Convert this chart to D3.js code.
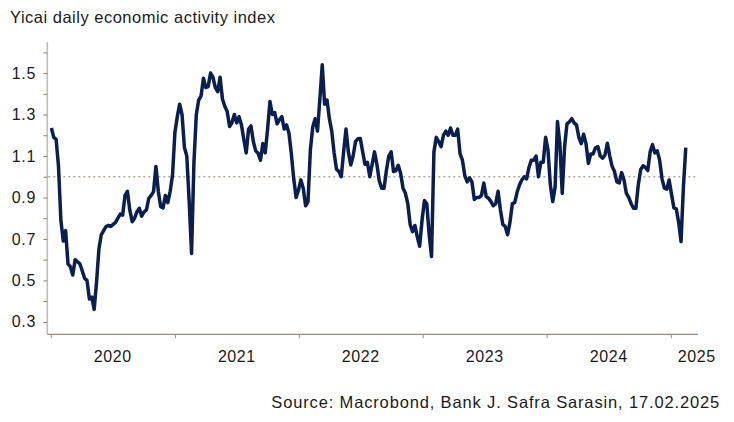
<!DOCTYPE html>
<html>
<head>
<meta charset="utf-8">
<script src="https://cdn.jsdelivr.net/npm/d3@7"></script>
<style>
  html, body { margin: 0; padding: 0; background: #ffffff; }
  svg { display: block; }
  text { font-family: "Liberation Sans", Arial, sans-serif; fill: #1a1a1a; }
</style>
</head>
<body>
<svg id="chart" width="734" height="422"></svg>
<script>
// ---------------- data ----------------
const title = "Yicai daily economic activity index";
const source = "Source: Macrobond, Bank J. Safra Sarasin, 17.02.2025";
const firstWeek = "2020-01-03";   // weekly observations, one value per week
const values = [
  1.235, 1.19, 1.18, 1.05, 0.79, 0.69, 0.74, 0.58, 0.566, 0.526,
  0.60, 0.59, 0.58, 0.545, 0.51, 0.50, 0.41, 0.42, 0.36, 0.49,
  0.65, 0.72, 0.74, 0.76, 0.765, 0.76, 0.77, 0.78, 0.80, 0.82,
  0.815, 0.91, 0.93, 0.84, 0.783, 0.80, 0.83, 0.848, 0.81, 0.83,
  0.84, 0.896, 0.91, 0.928, 1.05, 0.93, 0.856, 0.85, 0.91, 0.875,
  0.93, 1.01, 1.215, 1.29, 1.35, 1.30, 1.14, 1.10, 0.88, 0.63,
  1.07, 1.30, 1.37, 1.39, 1.475, 1.43, 1.436, 1.50, 1.48, 1.43,
  1.41, 1.48, 1.375, 1.34, 1.315, 1.242, 1.26, 1.30, 1.26, 1.29,
  1.25, 1.18, 1.115, 1.23, 1.245, 1.17, 1.125, 1.113, 1.08, 1.16,
  1.115, 1.23, 1.363, 1.30, 1.31, 1.255, 1.275, 1.29, 1.23, 1.25,
  1.21, 1.11, 0.99, 0.90, 0.935, 0.985, 0.945, 0.86, 0.88, 1.129,
  1.24, 1.28, 1.22, 1.375, 1.54, 1.35, 1.37, 1.28, 1.22, 1.115,
  1.036, 1.025, 1.00, 1.12, 1.23, 1.12, 1.057, 1.10, 1.17, 1.183,
  1.185, 1.121, 1.06, 1.07, 1.00, 1.06, 1.12, 1.06, 0.98, 0.945,
  0.945, 1.03, 1.10, 1.12, 1.025, 1.03, 1.055, 1.016, 0.945, 0.92,
  0.87, 0.77, 0.735, 0.765, 0.71, 0.665, 0.79, 0.885, 0.87, 0.72,
  0.615, 1.12, 1.19, 1.17, 1.145, 1.20, 1.22, 1.20, 1.235, 1.20,
  1.20, 1.23, 1.11, 1.08, 1.005, 0.975, 0.995, 0.975, 0.89, 0.90,
  0.90, 0.91, 0.97, 0.904, 0.896, 0.88, 0.86, 0.87, 0.93, 0.84,
  0.77, 0.76, 0.72, 0.78, 0.87, 0.875, 0.925, 0.96, 0.984, 1.00,
  0.99, 1.045, 1.08, 1.08, 1.10, 1.0, 1.07, 1.07, 1.19, 1.13,
  0.96, 0.88, 0.95, 1.266, 1.16, 0.92, 1.146, 1.255, 1.265, 1.28,
  1.26, 1.25, 1.19, 1.16, 1.205, 1.16, 1.065, 1.11, 1.11, 1.14,
  1.146, 1.10, 1.09, 1.105, 1.162, 1.10, 1.05, 1.025, 0.975, 0.97,
  1.02, 0.984, 0.92, 0.90, 0.87, 0.848, 0.848, 0.96, 1.033, 1.053,
  1.045, 1.03, 1.12, 1.155, 1.115, 1.125, 1.08, 0.99, 0.945, 0.94,
  0.984, 0.915, 0.85, 0.845, 0.78, 0.687, 0.95, 1.14
];
const referenceLevel = 1.0;
const yTicks = [0.3, 0.4, 0.5, 0.6, 0.7, 0.8, 0.9, 1.0, 1.1, 1.2, 1.3, 1.4, 1.5, 1.6];
const yTickLabels = ["0.3", "0.5", "0.7", "0.9", "1.1", "1.3", "1.5"];
const yearLabels = ["2020", "2021", "2022", "2023", "2024", "2025"];
const xDomain = ["2019-12-22", "2025-03-22"];
const yDomain = [0.24, 1.65];

// ---------------- layout ----------------
const svg = d3.select("#chart");
const plot = { left: 47.3, right: 698, top: 42, bottom: 334.3 };
const parse = d3.utcParse("%Y-%m-%d");

const x = d3.scaleUtc().domain(xDomain.map(parse)).range([plot.left, plot.right]);
const y = d3.scaleLinear().domain(yDomain).range([plot.bottom, plot.top]);

const start = parse(firstWeek);
const data = values.map((v, i) => ({ date: d3.utcDay.offset(start, 7 * i), value: v }));

// title
svg.append("text")
  .attr("x", 10).attr("y", 23)
  .style("font-size", "16.5px")
  .style("letter-spacing", "0.5px")
  .text(title);

// y axis
const fmt = d3.format(".1f");
const yAxis = d3.axisLeft(y)
  .tickValues(yTicks)
  .tickSize(4)
  .tickPadding(7)
  .tickFormat(d => yTickLabels.includes(fmt(d)) ? fmt(d) : "");
const gy = svg.append("g").attr("transform", `translate(${plot.left},0)`).call(yAxis);
gy.select(".domain").attr("stroke", "#c3bcb2").attr("stroke-width", 1.6)
  .attr("d", `M0,${plot.top}V${plot.bottom}`);
gy.selectAll(".tick line").attr("stroke", "#8f8273").attr("stroke-width", 1);
gy.selectAll(".tick text").style("font-size", "16px").attr("fill", "#1a1a1a")
  .style("letter-spacing", "0.8px")
  .style("font-family", "'Liberation Sans', Arial, sans-serif");

// x axis
const yearStarts = yearLabels.map(l => parse(`${l}-01-01`));
const xAxis = d3.axisBottom(x).tickValues(yearStarts).tickSize(4).tickFormat("");
const gx = svg.append("g").attr("transform", `translate(0,${plot.bottom})`).call(xAxis);
gx.select(".domain").attr("stroke", "#9c8c7c").attr("stroke-width", 1.2)
  .attr("d", `M${plot.left},0H${plot.right}`);
gx.selectAll(".tick line").attr("stroke", "#9c8c7c");

// year labels (mid-year, last one within the partial year)
svg.append("g").selectAll("text").data(yearLabels).join("text")
  .attr("x", (l, i) => {
    const a = x(parse(`${l}-01-01`));
    if (i < yearLabels.length - 1) return (a + x(parse(`${+l + 1}-01-01`))) / 2;
    return a + 26;
  })
  .attr("y", 362)
  .attr("text-anchor", "middle")
  .style("font-size", "16px")
  .style("letter-spacing", "0.6px")
  .text(d => d);

// reference line
svg.append("line")
  .attr("x1", plot.left + 1).attr("x2", plot.right)
  .attr("y1", y(referenceLevel)).attr("y2", y(referenceLevel))
  .attr("stroke", "#b3a696").attr("stroke-width", 1.3)
  .attr("stroke-dasharray", "2,3");

// series
const line = d3.line().x(d => x(d.date)).y(d => y(d.value));
svg.append("path").datum(data)
  .attr("d", line)
  .attr("fill", "none")
  .attr("stroke", "#0a1e50")
  .attr("stroke-width", 3.5)
  .attr("stroke-linejoin", "round")
  .attr("stroke-linecap", "butt");

// source
svg.append("text")
  .attr("x", 720).attr("y", 408)
  .attr("text-anchor", "end")
  .style("font-size", "16.5px")
  .style("letter-spacing", "0.85px")
  .text(source);
</script>
</body>
</html>
